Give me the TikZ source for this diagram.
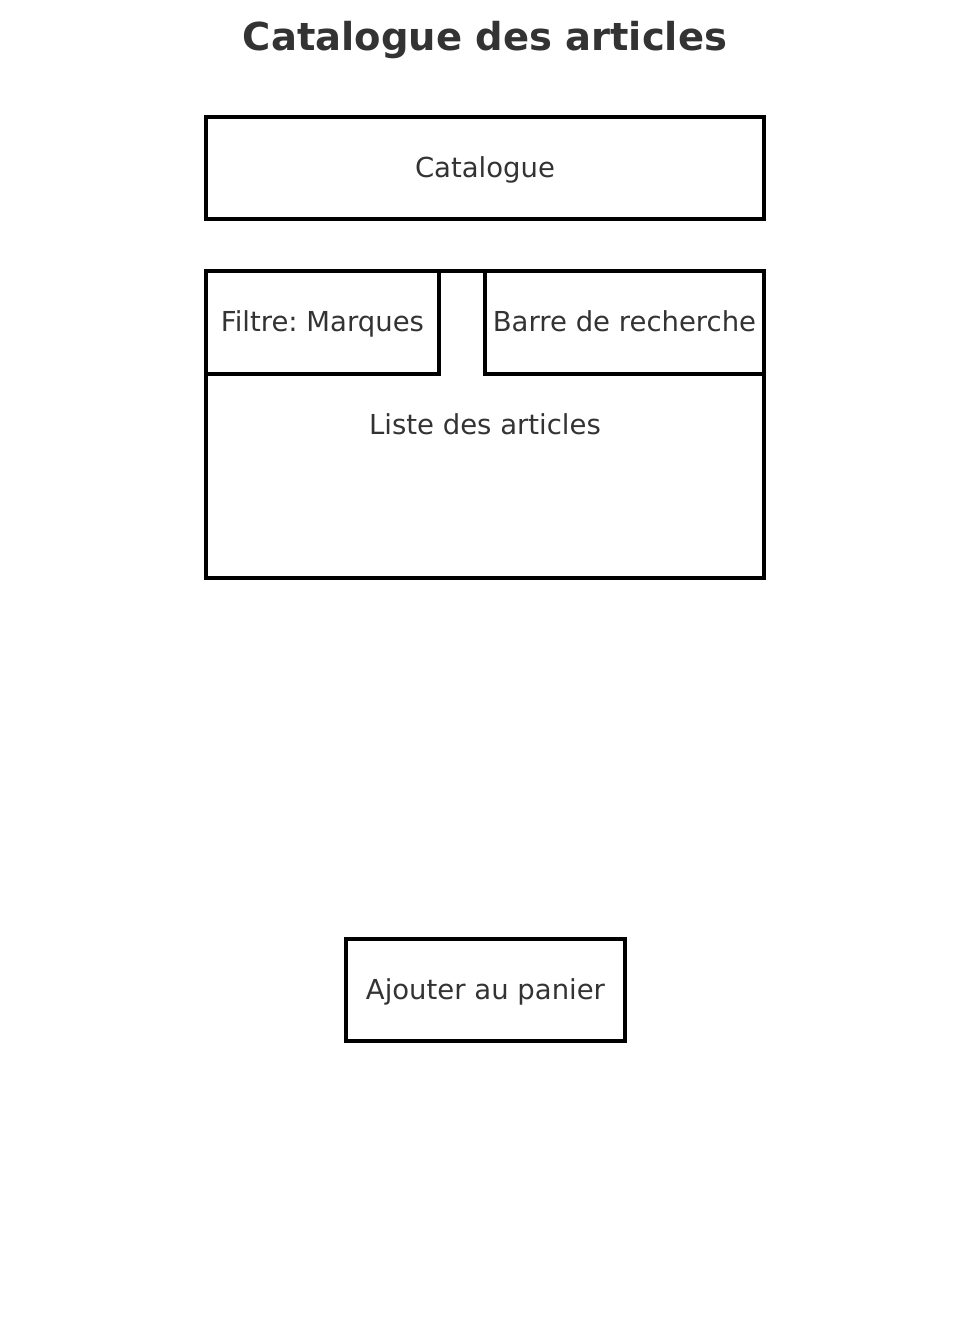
\documentclass[tikz,border=0pt]{standalone}
\usepackage{fontspec}
\setmainfont{DejaVu Sans}
\usepackage{tikz}
\usetikzlibrary{positioning}
\definecolor{txt}{HTML}{333333}
\frenchspacing

\begin{document}
\begin{tikzpicture}[x=1pt,y=-1pt,
  box/.style={draw=black,line width=4pt,inner sep=0pt,text=txt,
    text height=20pt,text depth=2pt,
    font=\fontsize{27.5}{33}\selectfont},
  lbl/.style={text=txt,inner sep=0pt,font=\fontsize{27.5}{33}\selectfont}]
  \useasboundingbox (0,0) rectangle (969,1318);
  \node[text=txt,anchor=base,font=\fontsize{38.5}{46}\selectfont\bfseries] (title) at (485,50) {Catalogue des articles};

  \node[box,minimum width=558pt,minimum height=102pt] (cat)   at (485,168) {Catalogue};
  \node[box,minimum width=558pt,minimum height=307pt] (liste) at (485,424.5) {};
  \node[box,minimum width=233pt,minimum height=103pt] (filtre) at (322.5,322.5) {Filtre: Marques};
  \node[box,minimum width=279pt,minimum height=103pt] (barre)  at (624.5,322.5) {Barre de recherche};
  \node[lbl,anchor=base] (listelbl) at (485,434) {Liste des articles};

  \node[box,minimum width=279pt,minimum height=102pt] (ajout) at (485.5,990) {Ajouter au panier};
\end{tikzpicture}
\end{document}
